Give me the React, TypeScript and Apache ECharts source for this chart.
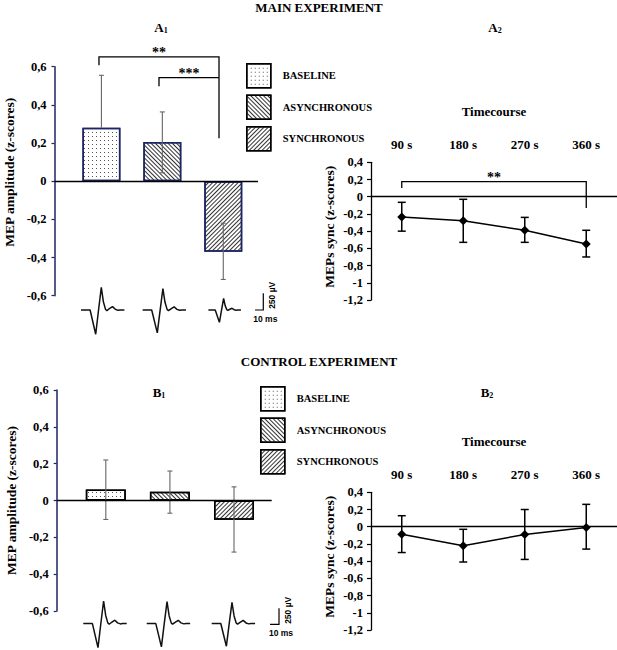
import React, { useEffect, useRef } from 'react';
import * as echarts from 'echarts';

// ---------- data ----------
const conditions = ['BASELINE', 'ASYNCHRONOUS', 'SYNCHRONOUS'];
const conditionPos = [1, 2, 3];

// A1 main experiment (z-scores)
const a1Mean = [0.28, 0.205, -0.37];
const a1High = [0.555, 0.363, -0.22];
const a1Low: (number | null)[] = [null, 0.044, -0.515]; // baseline: upper whisker only

// B1 control experiment
const b1Mean = [0.06, 0.047, -0.105];
const b1High = [0.22, 0.16, 0.074];
const b1Low: (number | null)[] = [-0.103, -0.069, -0.28];

// Timecourse
const timepoints = ['90 s', '180 s', '270 s', '360 s'];
const a2Mean = [-0.236, -0.28, -0.39, -0.55];
const a2High = [-0.065, -0.03, -0.24, -0.39];
const a2Low = [-0.4, -0.53, -0.53, -0.7];
const b2Mean = [-0.088, -0.22, -0.09, -0.008];
const b2High = [0.128, -0.03, 0.2, 0.26];
const b2Low = [-0.3, -0.41, -0.38, -0.26];

// significance brackets
const a1BracketStart = [0.96, 1.945];
const a1BracketEnd = [2.93, 2.93];
const a1BracketTop = [0.651, 0.543];
const a1BracketLeftEnd = [0.607, 0.497];
const a1BracketRightEnd = [0.225, 0.543];
const a1BracketLabel = ['**', '***'];
const a2BracketStart = [0];
const a2BracketEnd = [3];
const a2BracketTop = [0.175];
const a2BracketLeftEnd = [0.1];
const a2BracketRightEnd = [-0.13];
const a2BracketLabel = ['**'];

// example MEP trace (ms, µV)
const mepTimes = [0, 6.5, 10.5, 12.3, 14.5, 16, 17.5, 18.5, 20, 22.5, 24.5, 26.5, 28, 31];
const mepVolts = [0, 0, -357, -40, 334, 120, 10, -10, 15, 50, 10, -5, 0, 0];
const a1TraceOffsets = [0, 44, 91];
const a1TraceAmp = [1, 0.94, 0.51];
const a1TraceTimeScale = [1, 1, 0.75];
const b1TraceOffsets = [0, 45.3, 91.7];
const b1TraceAmp = [1.02, 0.99, 0.96];
const b1TraceTimeScale = [1, 1, 1];

// ---------- styling ----------
const SERIF = '"Liberation Serif", "Times New Roman", serif';
const SANS = '"Liberation Sans", Arial, sans-serif';
const NAVY = '#1c2566';

const decals = [
  { symbol: 'rect', symbolSize: 1, dashArrayX: [1, 3], dashArrayY: [1, 3], rotation: 0, color: '#555' },
  { symbol: 'rect', symbolSize: 1, dashArrayX: [1, 0], dashArrayY: [1, 2], rotation: Math.PI / 4, color: '#333' },
  { symbol: 'rect', symbolSize: 1, dashArrayX: [1, 0], dashArrayY: [1, 2], rotation: -Math.PI / 4, color: '#333' },
];

function fmtTick(v: number) {
  if (Math.abs(v) < 1e-9) return '0';
  if (Math.abs(v - Math.round(v)) < 1e-9) return String(Math.round(v));
  return v.toFixed(1).replace('.', ',');
}

const boldSerif = (size: number) => ({ fontFamily: SERIF, fontWeight: 'bold' as const, fontSize: size, color: '#000' });

function errorBarSeries(axis: number, xs: number[], mean: number[], low: (number | null)[], high: number[], color: string, width: number, cap: number) {
  const data = xs.map((x, i) => [x, low[i] == null ? mean[i] : (low[i] as number), high[i], low[i] == null ? 0 : 1]);
  return {
    type: 'custom',
    xAxisIndex: axis,
    yAxisIndex: axis,
    silent: true,
    clip: false,
    z: 4,
    data,
    encode: { x: 0, y: [1, 2] },
    renderItem: (_params: any, api: any) => {
      const x = api.value(0);
      const a = api.coord([x, api.value(1)]);
      const b = api.coord([x, api.value(2)]);
      const st = { stroke: color, lineWidth: width, fill: 'none' };
      const children: any[] = [
        { type: 'line', shape: { x1: a[0], y1: a[1], x2: b[0], y2: b[1] }, style: st },
        { type: 'line', shape: { x1: b[0] - cap / 2, y1: b[1], x2: b[0] + cap / 2, y2: b[1] }, style: st },
      ];
      if (api.value(3)) {
        children.push({ type: 'line', shape: { x1: a[0] - cap / 2, y1: a[1], x2: a[0] + cap / 2, y2: a[1] }, style: st });
      }
      return { type: 'group', children };
    },
  };
}

function bracketSeries(axis: number, starts: number[], ends: number[], tops: number[], lefts: number[], rights: number[], labels: string[]) {
  const data = starts.map((s, i) => [s, ends[i], tops[i], lefts[i], rights[i]]);
  return {
    type: 'custom',
    xAxisIndex: axis,
    yAxisIndex: axis,
    silent: true,
    clip: false,
    z: 5,
    data,
    encode: { x: [0, 1], y: [2, 3, 4] },
    renderItem: (params: any, api: any) => {
      const i = params.dataIndex;
      const pL = api.coord([api.value(0), api.value(3)]);
      const pLT = api.coord([api.value(0), api.value(2)]);
      const pRT = api.coord([api.value(1), api.value(2)]);
      const pR = api.coord([api.value(1), api.value(4)]);
      return {
        type: 'group',
        children: [
          { type: 'polyline', shape: { points: [pL, pLT, pRT, pR] }, style: { stroke: '#000', lineWidth: 1.3, fill: 'none' } },
          {
            type: 'text',
            x: (pLT[0] + pRT[0]) / 2,
            y: pLT[1] + 3,
            style: { text: labels[i], fontSize: 14, fontFamily: SERIF, fontWeight: 'bold', fill: '#000', align: 'center', verticalAlign: 'bottom' },
          },
        ],
      };
    },
  };
}

function barSeries(axis: number, mean: number[], border: string, width: number, withZeroLine: boolean) {
  return conditions.map((name, i) => ({
    type: 'bar',
    name,
    xAxisIndex: axis,
    yAxisIndex: axis,
    barWidth: width,
    barGap: '-100%',
    silent: true,
    z: 2,
    data: [[conditionPos[i], mean[i]]],
    itemStyle: { color: '#fff', borderColor: border, borderWidth: 1.5, decal: decals[i] },
    markLine: withZeroLine && i === 0
      ? {
          silent: true,
          symbol: ['none', 'none'],
          label: { show: false },
          lineStyle: { type: 'solid', color: '#000', width: 1.3 },
          data: [{ yAxis: 0 }],
        }
      : undefined,
  }));
}

function traceSeries(axis: number, offsets: number[], amps: number[], tScales: number[]) {
  return offsets.map((off, k) => ({
    type: 'line',
    name: 'MEP trace ' + (k + 1),
    xAxisIndex: axis,
    yAxisIndex: axis,
    silent: true,
    clip: false,
    symbol: 'none',
    lineStyle: { color: '#111', width: 1.5 },
    data: mepTimes.map((t, i) => [off + t * tScales[k], mepVolts[i] * amps[k]]),
  }));
}

function barYAxis(grid: number, nameShift: number) {
  return {
    type: 'value',
    gridIndex: grid,
    min: -0.6,
    max: 0.6,
    interval: 0.2,
    name: 'MEP amplitude (z-scores)',
    nameLocation: 'middle',
    nameRotate: 90,
    nameGap: 38,
    nameTextStyle: { ...boldSerif(13.5), padding: [0, 0, 0, nameShift] },
    axisLine: { show: true, lineStyle: { color: NAVY, width: 1.5 } },
    axisTick: { show: true, length: 3, lineStyle: { color: NAVY, width: 1.2 } },
    splitLine: { show: false },
    axisLabel: { ...boldSerif(12.5), margin: 8, formatter: fmtTick },
  };
}

function timeYAxis(grid: number, nameShift: number) {
  return {
    type: 'value',
    gridIndex: grid,
    min: -1.2,
    max: 0.4,
    interval: 0.2,
    name: 'MEPs sync (z-scores)',
    nameLocation: 'middle',
    nameRotate: 90,
    nameGap: 35,
    nameTextStyle: { ...boldSerif(13.5), padding: [0, 0, 0, nameShift] },
    axisLine: { show: true, lineStyle: { color: '#000', width: 1.3 } },
    axisTick: { show: true, length: 4, lineStyle: { color: '#000', width: 1.2 } },
    splitLine: { show: false },
    axisLabel: { ...boldSerif(12.5), margin: 8, formatter: fmtTick },
  };
}

function timeXAxis(grid: number) {
  return {
    type: 'category',
    gridIndex: grid,
    position: 'top',
    data: timepoints,
    boundaryGap: true,
    name: 'Timecourse',
    nameLocation: 'middle',
    nameGap: 44,
    nameTextStyle: boldSerif(13),
    axisLine: { show: false },
    axisTick: { show: false },
    axisLabel: { ...boldSerif(13), margin: 11 },
  };
}

function panelLabel(letter: string, sub: string, x: number, y: number) {
  return {
    type: 'text',
    x,
    y,
    style: {
      text: `{m|${letter}}{s|${sub}}`,
      align: 'center',
      verticalAlign: 'middle',
      rich: {
        m: { fontFamily: SERIF, fontWeight: 'bold', fontSize: 13, fill: '#000' },
        s: { fontFamily: SERIF, fontWeight: 'bold', fontSize: 8, fill: '#000', padding: [6, 0, 0, 0] },
      },
    },
  };
}

function scaleBar(x: number, y: number, w: number, h: number) {
  return [
    { type: 'polyline', shape: { points: [[x - w, y], [x, y], [x, y - h]] }, style: { stroke: '#000', lineWidth: 1.2, fill: 'none' } },
    { type: 'text', x: x + 2, y: y + 9, style: { text: '10 ms', fontFamily: SANS, fontWeight: 'bold', fontSize: 8.5, fill: '#000', align: 'center', verticalAlign: 'middle' } },
    { type: 'text', x: x + 8.5, y: y - h + 2, rotation: Math.PI / 2, style: { text: '250 µV', fontFamily: SANS, fontWeight: 'bold', fontSize: 8.5, fill: '#000', align: 'center', verticalAlign: 'middle' } },
  ];
}

function legend(left: number, top: number) {
  return {
    orient: 'vertical',
    left,
    top,
    itemWidth: 24,
    itemHeight: 24,
    itemGap: 6,
    icon: 'rect',
    selectedMode: false,
    data: conditions,
    itemStyle: { borderColor: '#000', borderWidth: 1.5 },
    textStyle: { ...boldSerif(10.5), padding: [0, 0, 0, 7] },
  };
}

function buildOption() {
  return {
    animation: false,
    backgroundColor: '#fff',
    legend: [legend(241, 58), legend(255, 381)],
    grid: [
      { left: 54.5, top: 66.7, width: 203.5, height: 229 }, // A1
      { left: 371, top: 162.3, width: 246, height: 137.7 }, // A2
      { left: 56.7, top: 390, width: 215, height: 221 }, // B1
      { left: 371, top: 492.3, width: 246, height: 137.7 }, // B2
      { left: 81, top: 282.8, width: 196, height: 54.4 }, // A1 traces
      { left: 83.3, top: 597.1, width: 196, height: 54.4 }, // B1 traces
    ],
    xAxis: [
      { type: 'value', gridIndex: 0, min: 0.23, max: 3.57, show: false },
      timeXAxis(1),
      { type: 'value', gridIndex: 2, min: 0.234, max: 3.588, show: false },
      timeXAxis(3),
      { type: 'value', gridIndex: 4, min: 0, max: 140, show: false },
      { type: 'value', gridIndex: 5, min: 0, max: 140, show: false },
    ],
    yAxis: [
      barYAxis(0, 18),
      timeYAxis(1, 9),
      barYAxis(2, 0),
      timeYAxis(3, 9),
      { type: 'value', gridIndex: 4, min: -400, max: 400, show: false },
      { type: 'value', gridIndex: 5, min: -400, max: 400, show: false },
    ],
    graphic: [
      { type: 'text', x: 319, y: 7, style: { text: 'MAIN EXPERIMENT', fontFamily: SERIF, fontWeight: 'bold', fontSize: 13, fill: '#000', align: 'center', verticalAlign: 'middle' } },
      { type: 'text', x: 319, y: 361, style: { text: 'CONTROL EXPERIMENT', fontFamily: SERIF, fontWeight: 'bold', fontSize: 13, fill: '#000', align: 'center', verticalAlign: 'middle' } },
      panelLabel('A', '1', 161, 27),
      panelLabel('A', '2', 495, 27),
      panelLabel('B', '1', 159, 392),
      panelLabel('B', '2', 487, 392),
      ...scaleBar(263.3, 310, 8.3, 16.7),
      ...scaleBar(279, 624.3, 9, 16),
    ],
    series: [
      ...barSeries(0, a1Mean, NAVY, 38, true),
      errorBarSeries(0, conditionPos, a1Mean, a1Low, a1High, '#666', 1.1, 5),
      bracketSeries(0, a1BracketStart, a1BracketEnd, a1BracketTop, a1BracketLeftEnd, a1BracketRightEnd, a1BracketLabel),
      ...barSeries(2, b1Mean, '#000', 40, true),
      errorBarSeries(2, conditionPos, b1Mean, b1Low, b1High, '#666', 1.1, 5),
      {
        type: 'line',
        name: 'A2 sync',
        xAxisIndex: 1,
        yAxisIndex: 1,
        silent: true,
        data: a2Mean,
        symbol: 'diamond',
        symbolSize: 9,
        itemStyle: { color: '#000' },
        lineStyle: { color: '#000', width: 1.5 },
        z: 5,
        markLine: { silent: true, symbol: ['none', 'none'], label: { show: false }, lineStyle: { type: 'solid', color: '#000', width: 1.3 }, data: [{ yAxis: 0 }] },
      },
      errorBarSeries(1, timepoints.map((_, i) => i), a2Mean, a2Low, a2High, '#000', 1.5, 8),
      bracketSeries(1, a2BracketStart, a2BracketEnd, a2BracketTop, a2BracketLeftEnd, a2BracketRightEnd, a2BracketLabel),
      {
        type: 'line',
        name: 'B2 sync',
        xAxisIndex: 3,
        yAxisIndex: 3,
        silent: true,
        data: b2Mean,
        symbol: 'diamond',
        symbolSize: 9,
        itemStyle: { color: '#000' },
        lineStyle: { color: '#000', width: 1.5 },
        z: 5,
        markLine: { silent: true, symbol: ['none', 'none'], label: { show: false }, lineStyle: { type: 'solid', color: '#000', width: 1.3 }, data: [{ yAxis: 0 }] },
      },
      errorBarSeries(3, timepoints.map((_, i) => i), b2Mean, b2Low, b2High, '#000', 1.5, 8),
      ...traceSeries(4, a1TraceOffsets, a1TraceAmp, a1TraceTimeScale),
      ...traceSeries(5, b1TraceOffsets, b1TraceAmp, b1TraceTimeScale),
    ],
  };
}

export default function App() {
  const ref = useRef<HTMLDivElement>(null);
  useEffect(() => {
    if (!ref.current) return;
    const chart = echarts.init(ref.current, null, { renderer: 'svg' });
    chart.setOption(buildOption() as any);
    return () => chart.dispose();
  }, []);
  return (
    <div
      ref={ref}
      style={{ position: 'fixed', left: 0, top: 0, width: 617, height: 650, background: '#fff' }}
    />
  );
}
